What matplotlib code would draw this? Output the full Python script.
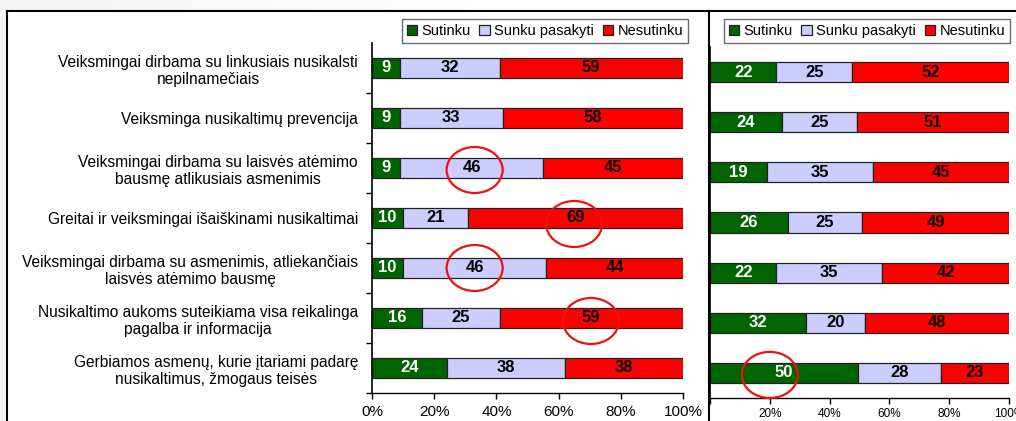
import matplotlib
matplotlib.use("Agg")
import matplotlib.pyplot as plt
import numpy as np
from matplotlib.patches import Ellipse, Rectangle
from matplotlib.lines import Line2D

plt.rcParams['font.family'] = ['Liberation Sans', 'DejaVu Sans']

categories = [
    "Veiksmingai dirbama su linkusiais nusikalsti\nnepilnamečiais",
    "Veiksminga nusikaltimų prevencija",
    "Veiksmingai dirbama su laisvės atėmimo\nbausmę atlikusiais asmenimis",
    "Greitai ir veiksmingai išaiškinami nusikaltimai",
    "Veiksmingai dirbama su asmenimis, atliekančiais\nlaisvės atėmimo bausmę",
    "Nusikaltimo aukoms suteikiama visa reikalinga\npagalba ir informacija",
    "Gerbiamos asmenų, kurie įtariami padarę\nnusikaltimus, žmogaus teisės",
]
series = ["Sutinku", "Sunku pasakyti", "Nesutinku"]

left_agree = [9, 9, 9, 10, 10, 16, 24]
left_unsure = [32, 33, 46, 21, 46, 25, 38]
left_disagree = [59, 58, 45, 69, 44, 59, 38]

right_agree = [22, 24, 19, 26, 22, 32, 50]
right_unsure = [25, 25, 35, 25, 35, 20, 28]
right_disagree = [52, 51, 45, 49, 42, 48, 23]

ticks = [0, 20, 40, 60, 80, 100]

colors = ["#006400", "#CCCCFF", "#FF0000"]
text_colors = ["white", "black", "black"]

# highlighted cells: (x in %, row) circled in red
left_marks = [(33, 2.04), (65, 3.12), (33, 4.0), (70.4, 5.06)]
right_marks = [(20, 6.04)]

fig = plt.figure(figsize=(10.16, 4.21), dpi=100)

# light gray slide background above / left of the frame, fading to white
fig.patches.append(Rectangle((0, 0), 7/1016, 1, transform=fig.transFigure,
                             facecolor="#f3f3f3", edgecolor="none", zorder=0))
grad = fig.add_axes([0, 1-11/421, 1, 11/421], zorder=0)
grad.imshow(np.clip(np.linspace(0.95, 1.05, 256), 0, 1)[None, :], aspect="auto",
            cmap="gray", vmin=0, vmax=1, extent=(0, 1, 0, 1))
grad.axis("off")

ax1 = fig.add_axes([372/1016, 1-393/421, 311/1016, 350/421])
ax2 = fig.add_axes([710/1016, 1-398/421, 299/1016, 351/421])


def draw(ax, vals, marks, tick_size, tick_pad, first_label=True):
    data = np.array(vals, dtype=float)
    shares = data / data.sum(axis=0) * 100
    y = np.arange(len(categories))
    left = np.zeros(len(categories))
    for i, name in enumerate(series):
        bars = ax.barh(y, shares[i], left=left, height=0.4, color=colors[i],
                       edgecolor="#222222", linewidth=0.9, label=name)
        ax.bar_label(bars, labels=[str(int(v)) for v in data[i]],
                     label_type="center", color=text_colors[i],
                     fontsize=12, fontweight="bold")
        left += shares[i]
    ax.set_xlim(0, 100)
    ax.set_ylim(len(categories) - 0.5, -0.5)
    ax.set_xticks(ticks)
    labels = [f"{t}%" for t in ticks]
    if not first_label:
        labels[0] = ""
    ax.set_xticklabels(labels, fontsize=tick_size)
    ax.tick_params(axis="x", length=4, width=1, direction="out", pad=tick_pad)
    for s in ["top", "right"]:
        ax.spines[s].set_visible(False)
    ax.spines["left"].set_linewidth(1.2)
    ax.spines["bottom"].set_linewidth(1.0)
    sx = 100 / ax.get_position().width / 1016
    for (mx, my) in marks:
        ax.add_patch(Ellipse((mx, my), 56 * sx, 0.92, fill=False,
                             edgecolor="#EE1111", linewidth=1.6, clip_on=False,
                             zorder=5))


draw(ax1, [left_agree, left_unsure, left_disagree], left_marks, 11, 5)
draw(ax2, [right_agree, right_unsure, right_disagree], right_marks, 8.5, 3,
     first_label=False)

ax1.set_yticks(np.arange(len(categories)))
ax1.set_yticklabels(categories, fontsize=11.2, multialignment="center",
                    linespacing=1.2)
ax1.set_yticks(np.arange(len(categories)) + 0.5, minor=True)
ax1.tick_params(axis="y", which="major", length=0, pad=10)
ax1.tick_params(axis="y", which="minor", length=4, width=1)
ax2.set_yticks([])

for ax, x_right in [(ax1, 688), (ax2, 1010)]:
    leg = ax.legend(loc="upper right", bbox_to_anchor=(x_right/1016, 1-19/421),
                    bbox_transform=fig.transFigure, ncol=3, fontsize=10.5,
                    frameon=True, fancybox=False, handlelength=0.7,
                    handleheight=0.7, handletextpad=0.3, columnspacing=0.6,
                    borderpad=0.35, borderaxespad=0)
    leg.get_frame().set_edgecolor("#444444")
    leg.get_frame().set_linewidth(1.0)

# slide frame and divider
fig.add_artist(Line2D([7/1016, 1], [1-11/421, 1-11/421], color="black",
                      linewidth=1.5, transform=fig.transFigure))
fig.add_artist(Line2D([7/1016, 7/1016], [0, 1-11/421], color="black",
                      linewidth=1.5, transform=fig.transFigure))
fig.add_artist(Line2D([709/1016, 709/1016], [0, 1-11/421], color="black",
                      linewidth=1.5, transform=fig.transFigure))

fig.savefig("out.png", dpi=100)
